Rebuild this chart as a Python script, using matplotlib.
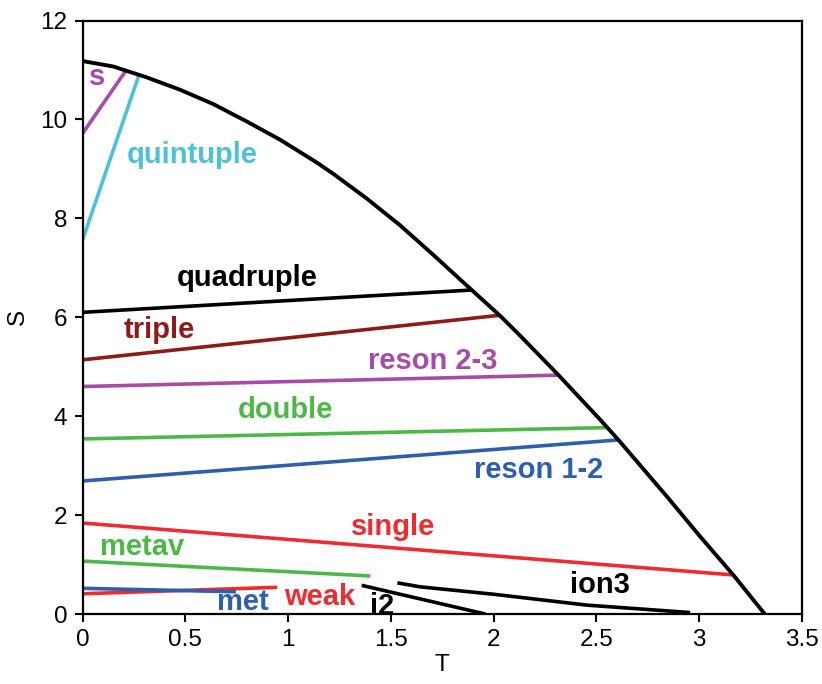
import matplotlib
matplotlib.use("Agg")
from matplotlib import pyplot as plt

plt.rcParams['font.family'] = ['Liberation Sans', 'DejaVu Sans']

# outer boundary curve
boundary_T = [0, 0.149, 0.312, 0.474, 0.636, 0.798, 0.961, 1.139, 1.22, 1.383,
              1.545, 1.707, 1.894, 2.032, 2.129, 2.314, 2.519, 2.608, 2.843,
              3.005, 3.167, 3.32]
boundary_S = [11.18, 11.07, 10.85, 10.60, 10.31, 9.96, 9.59, 9.13, 8.90, 8.40,
              7.86, 7.26, 6.55, 6.03, 5.63, 4.84, 3.93, 3.52, 2.38,
              1.57, 0.79, 0.0]

# region lines
s_T, s_S = [0, 0.209], [9.72, 10.98]
quintuple_T, quintuple_S = [0, 0.274], [7.57, 10.90]
quadruple_T, quadruple_S = [0, 1.89], [6.10, 6.55]
triple_T, triple_S = [0, 2.03], [5.14, 6.04]
reson23_T, reson23_S = [0, 2.314], [4.60, 4.83]
double_T, double_S = [0, 2.558], [3.54, 3.77]
reson12_T, reson12_S = [0, 2.608], [2.69, 3.52]
single_T, single_S = [0, 3.167], [1.84, 0.79]
metav_T, metav_S = [0, 1.40], [1.07, 0.77]
met_T, met_S = [0, 0.746], [0.52, 0.45]
weak_T, weak_S = [0, 0.946], [0.41, 0.54]
i2_T, i2_S = [1.358, 1.96], [0.58, 0.0]
ion3_T, ion3_S = [1.532, 1.642, 2.0, 2.454, 2.957], [0.63, 0.55, 0.40, 0.18, 0.03]

PURPLE = '#a64ca6'
CYAN = '#4fc1d6'
DARKRED = '#8e1b1b'
GREEN = '#4cb848'
BLUE = '#2e5eae'
RED = '#ee2b2f'

lines = [
    (s_T, s_S, PURPLE),
    (quintuple_T, quintuple_S, CYAN),
    (quadruple_T, quadruple_S, 'black'),
    (triple_T, triple_S, DARKRED),
    (reson23_T, reson23_S, PURPLE),
    (double_T, double_S, GREEN),
    (reson12_T, reson12_S, BLUE),
    (single_T, single_S, RED),
    (metav_T, metav_S, GREEN),
    (weak_T, weak_S, RED),
    (met_T, met_S, BLUE),
    (i2_T, i2_S, 'black'),
    (ion3_T, ion3_S, 'black'),
]

# labels: text, T, S, colour
labels = [
    ('s', 0.07, 10.85, PURPLE),
    ('quintuple', 0.532, 9.29, CYAN),
    ('quadruple', 0.80, 6.80, 'black'),
    ('triple', 0.375, 5.75, DARKRED),
    ('reson 2-3', 1.705, 5.12, PURPLE),
    ('double', 0.985, 4.13, GREEN),
    ('reson 1-2', 2.217, 2.91, BLUE),
    ('single', 1.51, 1.76, RED),
    ('metav', 0.287, 1.36, GREEN),
    ('met', 0.779, 0.25, BLUE),
    ('weak', 1.155, 0.35, RED),
    ('i2', 1.456, 0.16, 'black'),
    ('ion3', 2.52, 0.59, 'black'),
]

fig = plt.figure(figsize=(8.22, 6.84), dpi=100)
ax = fig.add_axes([0.1006, 0.1023, 0.8747, 0.8677])

for T, S, c in lines:
    ax.plot(T, S, color=c, linewidth=2.6, solid_capstyle='butt')
ax.plot(boundary_T, boundary_S, color='black', linewidth=2.8,
        solid_joinstyle='round')

for txt, T, S, c in labels:
    ax.text(T, S, txt, color=c, fontsize=21, fontweight='bold',
            ha='center', va='center', clip_on=False, zorder=5)

ax.set_xlim(0, 3.5)
ax.set_ylim(0, 12)
ax.set_xticks([0, 0.5, 1, 1.5, 2, 2.5, 3, 3.5])
ax.set_xticklabels(['0', '0.5', '1', '1.5', '2', '2.5', '3', '3.5'])
ax.set_yticks([0, 2, 4, 6, 8, 10, 12])
ax.tick_params(direction='out', length=6, width=1.5, labelsize=17.5, pad=5)
for sp in ax.spines.values():
    sp.set_linewidth(1.6)
ax.set_xlabel('T', fontsize=17.5, labelpad=2)
ax.set_ylabel('S', fontsize=17.5, labelpad=8)

fig.savefig('out.png', dpi=100)
